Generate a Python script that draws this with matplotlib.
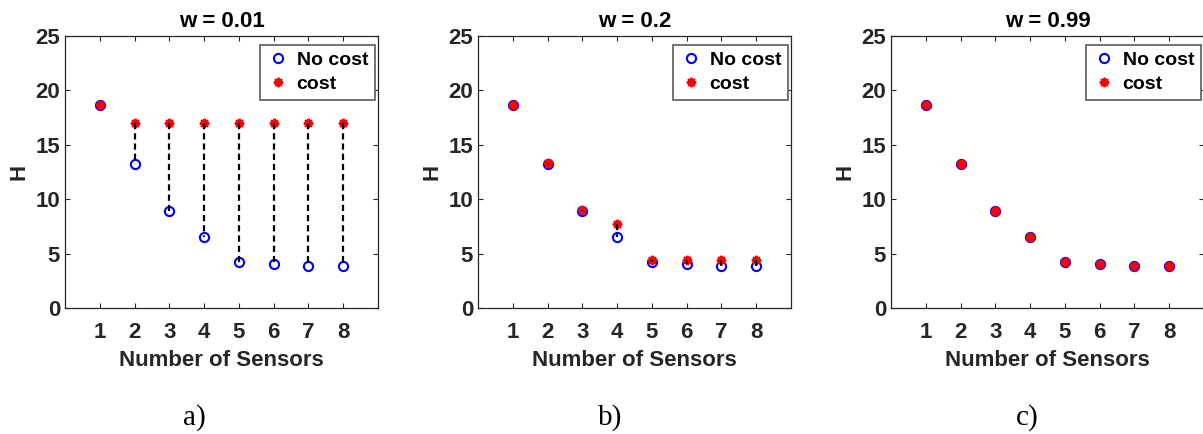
import matplotlib
matplotlib.use("Agg")
import matplotlib.pyplot as plt
from matplotlib.lines import Line2D

plt.rcParams['font.family'] = ['Liberation Sans', 'DejaVu Sans']

# Number of sensors on the x axis
sensors = [1, 2, 3, 4, 5, 6, 7, 8]
x_ticks = [1, 2, 3, 4, 5, 6, 7, 8]
y_ticks = [0, 5, 10, 15, 20, 25]

# Entropy H without any sensor cost
h_no_cost = [18.65, 13.2, 8.88, 6.5, 4.26, 4.07, 3.89, 3.83]

# Entropy H with sensor cost, for each weight w
h_cost_w001 = [18.65, 17.0, 17.0, 17.0, 17.0, 17.0, 17.0, 17.0]
h_cost_w02 = [18.7, 13.3, 9.0, 7.7, 4.44, 4.44, 4.44, 4.44]
h_cost_w099 = [18.65, 13.2, 8.88, 6.5, 4.26, 4.07, 3.89, 3.83]

titles = ['w = 0.01', 'w = 0.2', 'w = 0.99']
panel_tags = ['a)', 'b)', 'c)']
cost_series = [h_cost_w001, h_cost_w02, h_cost_w099]

W, H = 1203, 434
fig = plt.figure(figsize=(W / 100, H / 100), dpi=100)

ax_lefts = [65, 478, 891]
ax_w, ax_top, ax_bot = 313, 36, 308
tag_x = [194, 610, 1027]

dark = '#262626'
circle_style = dict(linestyle='none', marker='o', ms=6.6, mfc='none',
                    mec='#0000ff', mew=1.5)
star_style = dict(linestyle='none', marker=(8, 2, 0), ms=6.8,
                  mec='#ff0000', mfc='#ff0000', mew=1.5)

for i in range(3):
    ax = fig.add_axes([ax_lefts[i] / W, (H - ax_bot) / H,
                       ax_w / W, (ax_bot - ax_top) / H])
    cost = cost_series[i]

    ax.plot(sensors, h_no_cost, label='No cost', **circle_style)
    ax.plot(sensors, cost, label='cost', **star_style)
    for xs, c, n in zip(sensors, cost, h_no_cost):
        ax.plot([xs, xs], [c, n], color='black', lw=1.6,
                linestyle=(0, (2.8, 1.8)))

    ax.set_xlim(0, 9)
    ax.set_ylim(0, 25)
    ax.set_xticks(x_ticks)
    ax.set_yticks(y_ticks)
    ax.tick_params(direction='in', length=3.5, width=0.8, top=True,
                   right=True, labelsize=16, colors=dark)
    ax.tick_params(axis='x', pad=10)
    ax.tick_params(axis='y', pad=3.5)
    for lab in ax.get_xticklabels() + ax.get_yticklabels():
        lab.set_fontweight('bold')
    for sp in ax.spines.values():
        sp.set_color(dark)
        sp.set_linewidth(0.9)

    ax.set_xlabel('Number of Sensors', fontsize=16, fontweight='bold',
                  color=dark, labelpad=5)
    ax.set_ylabel('H', fontsize=16, fontweight='bold', color=dark,
                  labelpad=4)
    ax.set_title(titles[i], fontsize=16, fontweight='bold', color='black',
                 pad=6.5)

    handles = [Line2D([], [], **circle_style), Line2D([], [], **star_style)]
    leg = ax.legend(handles, ['No cost', 'cost'], loc='upper left',
                    bbox_to_anchor=((260 - 65) / 313, 0.968),
                    borderaxespad=0,
                    prop={'weight': 'bold', 'size': 14},
                    handlelength=1.13, handletextpad=0.4, borderpad=0.35,
                    labelspacing=0.32, fancybox=False, framealpha=1,
                    edgecolor='#5a5a5a')
    leg.get_frame().set_linewidth(1.2)
    for t in leg.get_texts():
        t.set_color('black')

    fig.text(tag_x[i] / W, 1 - 418 / H, panel_tags[i], ha='center',
             va='center', fontsize=21, family='Liberation Serif')

fig.savefig('out.png', dpi=100)
